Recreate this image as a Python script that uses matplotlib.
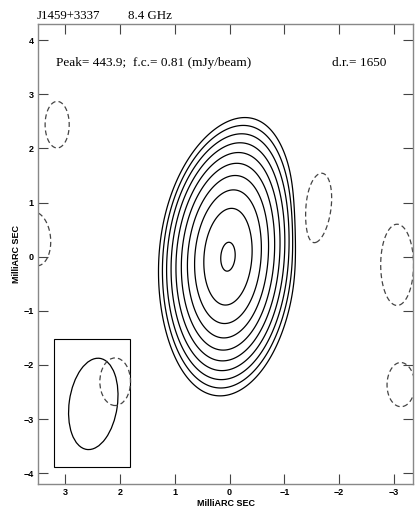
import numpy as np
import matplotlib
matplotlib.use("Agg")
import matplotlib.pyplot as plt
from matplotlib.patches import Ellipse, Rectangle

# map info
source = "J1459+3337"
freq = "8.4 GHz"
peak = 443.9
first_contour = 0.81
dyn_range = 1650

# gaussian component making the clean map (x = RA offset, mas)
# the outer isophotes lean: shift in x grows with y (lin, quad, cubic terms)
comp_x = [0.03]
comp_y = [0.0]
comp_flux = [443.9]
comp_sig_y = [0.724]
comp_sig_x = [0.355]
comp_lean = [(0.059, 0.0125, 0.0044)]

# negative blobs (dashed contours at -f.c.)
neg_x = [3.15, 3.55, -1.6, -3.06, -3.13]
neg_y = [2.44, 0.33, 0.89, -0.15, -2.38]
neg_sig_maj = [0.43, 0.50, 0.66, 0.75, 0.39]
neg_sig_min = [0.22, 0.28, 0.25, 0.30, 0.25]
neg_pa = [0, 5, -8, 0, 0]

# restoring beam box
beam_x = 2.49
beam_y = -2.72
beam_maj = 1.70
beam_min = 0.88
beam_pa = 8
beam2_x = 2.09
beam2_y = -2.31
beam2_maj = 0.88
beam2_min = 0.56

xticks = [3, 2, 1, 0, -1, -2, -3]
yticks = [-4, -3, -2, -1, 0, 1, 2, 3, 4]


def gauss2d(X, Y, x0, y0, amp, smaj, smin, pa):
    t = np.radians(pa)
    u = (X - x0) * np.cos(t) - (Y - y0) * np.sin(t)
    v = (X - x0) * np.sin(t) + (Y - y0) * np.cos(t)
    return amp * np.exp(-0.5 * (u**2 / smin**2 + v**2 / smaj**2))


def leaning_gauss(X, Y, x0, y0, amp, sy, sx, lean):
    dy = Y - y0
    dx = (X - x0) + lean[0] * dy + lean[1] * dy**2 + lean[2] * dy**3
    return amp * np.exp(-0.5 * (dx**2 / sx**2 + dy**2 / sy**2))


xs = np.linspace(-3.8, 3.9, 700)
ys = np.linspace(-4.4, 4.5, 800)
X, Y = np.meshgrid(xs, ys)

img = np.zeros_like(X)
for i in range(len(comp_x)):
    img += leaning_gauss(X, Y, comp_x[i], comp_y[i], comp_flux[i],
                         comp_sig_y[i], comp_sig_x[i], comp_lean[i])
neg_amp = -first_contour * np.exp(0.5)
for i in range(len(neg_x)):
    img += gauss2d(X, Y, neg_x[i], neg_y[i], neg_amp,
                   neg_sig_maj[i], neg_sig_min[i], neg_pa[i])

levels = [first_contour * 2**k for k in range(10)]

fig = plt.figure(figsize=(4.19, 5.09), dpi=100)
ax = fig.add_axes([38/419, 25/509, 375/419, 460/509])

ax.contour(X, Y, img, levels=levels, colors='black', linewidths=0.9)
ax.contour(X, Y, img, levels=[-first_contour], colors='#444444',
           linewidths=0.9, linestyles=[(0, (4, 2.5))])

# beam inset
ax.add_patch(Rectangle((1.82, -3.88), 3.2 - 1.82, -1.52 + 3.88,
                       fill=False, edgecolor='black', linewidth=0.8))
ax.add_patch(Ellipse((beam_x, beam_y), beam_min, beam_maj, angle=beam_pa,
                     fill=False, edgecolor='black', linewidth=0.9))
ax.add_patch(Ellipse((beam2_x, beam2_y), beam2_min, beam2_maj, angle=0,
                     fill=False, edgecolor='#444444', linewidth=0.9,
                     linestyle=(0, (4, 2.5))))

ax.set_xlim(3.5, -3.35)
ax.set_ylim(-4.2, 4.3)

ax.set_xticks(xticks)
ax.set_yticks(yticks)
ax.tick_params(direction='in', length=7, width=0.8, color='#444444',
               top=True, right=True, labelsize=6.5, pad=3)
for lab in ax.get_xticklabels() + ax.get_yticklabels():
    lab.set_fontweight('bold')
    lab.set_family('Liberation Sans')
for s in ax.spines.values():
    s.set_color('#888888')
    s.set_linewidth(1.0)

ax.set_xlabel("MilliARC SEC", fontsize=6.5, fontweight='bold',
              family='Liberation Sans', labelpad=1)
ax.set_ylabel("MilliARC SEC", fontsize=6.5, fontweight='bold',
              family='Liberation Sans', labelpad=2)

ax.text(3.18, 3.58, "Peak= %.1f;  f.c.= %.2f (mJy/beam)" % (peak, first_contour),
        fontsize=9.5, family='Liberation Serif', va='center')
ax.text(-1.87, 3.58, "d.r.= %d" % dyn_range, fontsize=9.5,
        family='Liberation Serif', va='center')

fig.text(37/419, 1 - 19/509, source, fontsize=9.3, family='Liberation Serif',
         va='baseline')
fig.text(128/419, 1 - 19/509, freq, fontsize=9.3, family='Liberation Serif',
         va='baseline')

fig.savefig("out.png", dpi=100)
